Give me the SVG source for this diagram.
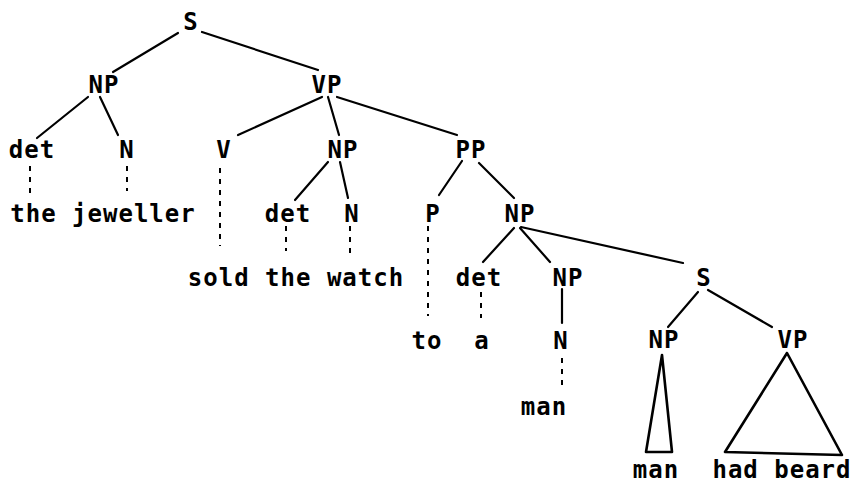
<svg xmlns="http://www.w3.org/2000/svg" width="856" height="484" viewBox="0 0 856 484">
  <style>
    .lbl { font-family: "DejaVu Sans Mono", "Liberation Mono", monospace; font-weight: bold; font-size: 24px; letter-spacing: 1px; fill: #000; text-anchor: middle; }
    .edge { stroke: #000; stroke-width: 2.2; fill: none; stroke-linecap: round; }
    .lex { stroke: #000; stroke-width: 2; fill: none; stroke-dasharray: 5 6; }
    .tri { stroke: #000; stroke-width: 2.6; fill: none; stroke-linejoin: round; }
  </style>
  <rect width="856" height="484" fill="#fff"/>

  <!-- tree branches -->
  <g id="connectors">
    <line class="edge" x1="178" y1="33" x2="113" y2="72"/>
    <line class="edge" x1="202" y1="32" x2="318" y2="70"/>
    <line class="edge" x1="88" y1="97" x2="37" y2="138"/>
    <line class="edge" x1="100" y1="97" x2="118" y2="135"/>
    <line class="edge" x1="322" y1="97" x2="238" y2="135"/>
    <line class="edge" x1="328" y1="97" x2="339" y2="135"/>
    <line class="edge" x1="337" y1="97" x2="457" y2="135"/>
    <line class="edge" x1="328" y1="162" x2="295" y2="200"/>
    <line class="edge" x1="340" y1="162" x2="348" y2="198"/>
    <line class="edge" x1="462" y1="161" x2="439" y2="195"/>
    <line class="edge" x1="479" y1="163" x2="514" y2="198"/>
    <line class="edge" x1="514" y1="228" x2="483" y2="262"/>
    <line class="edge" x1="520" y1="228" x2="550" y2="262"/>
    <line class="edge" x1="521" y1="227" x2="683" y2="263"/>
    <line class="edge" x1="698" y1="292" x2="668" y2="327"/>
    <line class="edge" x1="708" y1="290" x2="772" y2="327"/>
    <line class="edge" x1="562" y1="289" x2="562" y2="323"/>
    <!-- lexical attachments -->
    <line class="lex" x1="30" y1="166" x2="30" y2="195"/>
    <line class="lex" x1="127" y1="166" x2="127" y2="191"/>
    <line class="lex" x1="220" y1="168" x2="220" y2="246"/>
    <line class="lex" x1="286" y1="226" x2="286" y2="251"/>
    <line class="lex" x1="350" y1="226" x2="350" y2="253"/>
    <line class="lex" x1="428" y1="226" x2="428" y2="316"/>
    <line class="lex" x1="481" y1="292" x2="481" y2="318"/>
    <line class="lex" x1="562" y1="358" x2="562" y2="385"/>
    <!-- abbreviated constituents -->
    <polygon class="tri" points="662,355 646,452 672,452"/>
    <polygon class="tri" points="787,353 725,452 842,455"/>
  </g>

  <g id="s-root"><text class="lbl" x="191" y="30">S</text></g>
  <g id="np-subj"><text class="lbl" x="104" y="93">NP</text></g>
  <g id="vp-main"><text class="lbl" x="327" y="93">VP</text></g>
  <g id="det-1"><text class="lbl" x="32" y="158">det</text></g>
  <g id="n-1"><text class="lbl" x="127" y="158">N</text></g>
  <g id="v-1"><text class="lbl" x="224" y="158">V</text></g>
  <g id="np-obj"><text class="lbl" x="343" y="158">NP</text></g>
  <g id="pp"><text class="lbl" x="471" y="158">PP</text></g>
  <g id="words-subj"><text class="lbl" x="103" y="222">the jeweller</text></g>
  <g id="det-2"><text class="lbl" x="288" y="222">det</text></g>
  <g id="n-2"><text class="lbl" x="352" y="222">N</text></g>
  <g id="p"><text class="lbl" x="433" y="222">P</text></g>
  <g id="np-pobj"><text class="lbl" x="520" y="222">NP</text></g>
  <g id="words-vp"><text class="lbl" x="296" y="286">sold the watch</text></g>
  <g id="det-3"><text class="lbl" x="479" y="286">det</text></g>
  <g id="np-head"><text class="lbl" x="568" y="286">NP</text></g>
  <g id="s-rel"><text class="lbl" x="704" y="286">S</text></g>
  <g id="word-to"><text class="lbl" x="427" y="349">to</text></g>
  <g id="word-a"><text class="lbl" x="482" y="349">a</text></g>
  <g id="n-3"><text class="lbl" x="561" y="349">N</text></g>
  <g id="np-rel"><text class="lbl" x="664" y="348">NP</text></g>
  <g id="vp-rel"><text class="lbl" x="793" y="348">VP</text></g>
  <g id="word-man-1"><text class="lbl" x="544" y="415">man</text></g>
  <g id="word-man-2"><text class="lbl" x="656" y="478">man</text></g>
  <g id="words-had-beard"><text class="lbl" x="782" y="478">had beard</text></g>
</svg>
